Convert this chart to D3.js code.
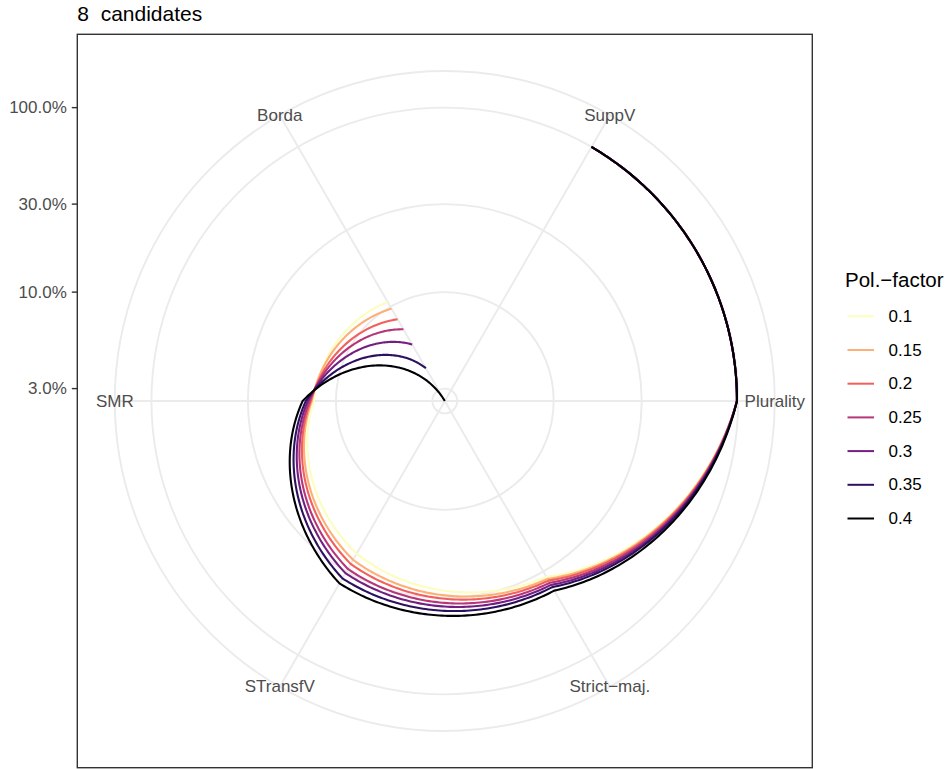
<!DOCTYPE html>
<html>
<head>
<meta charset="utf-8">
<script src="https://cdn.jsdelivr.net/npm/d3@7"></script>
<style>
  html, body { margin: 0; padding: 0; background: #fff; }
  svg { display: block; font-family: "Liberation Sans", Arial, Helvetica, sans-serif; }
</style>
</head>
<body>
<svg id="chart" width="948" height="769"></svg>
<script>
// Voting rules, in the clockwise order they are placed around the circle
const categories = ["SuppV", "Plurality", "Strict\u2212maj.", "STransfV", "SMR", "Borda"];

// Polarisation factor levels (legend entries)
const polFactors = ["0.1", "0.15", "0.2", "0.25", "0.3", "0.35", "0.4"];

// Share per rule, one array per polarisation factor (same order as categories)
const pol010 = [1.000, 0.985, 0.3245, 0.232, 0.1318, 0.1072];
const pol015 = [1.000, 0.985, 0.3336, 0.2535, 0.1350, 0.0972];
const pol020 = [1.000, 0.985, 0.342, 0.269, 0.1368, 0.0835];
const pol025 = [1.000, 0.985, 0.353, 0.289, 0.1388, 0.0722];
const pol030 = [1.000, 0.985, 0.364, 0.307, 0.1420, 0.0580];
const pol035 = [1.000, 0.985, 0.3757, 0.331, 0.1456, 0.0412];
const pol040 = [1.000, 0.985, 0.395, 0.356, 0.1515, 0.0257];
const seriesValues = [pol010, pol015, pol020, pol025, pol030, pol035, pol040];

// Radial axis breaks and their labels
const rTicks = [0.03, 0.1, 0.3, 1.0];
const rTickLabels = ["3.0%", "10.0%", "30.0%", "100.0%"];

// Reversed magma palette
const palette = ["#FCFDBF", "#FEAF77", "#F1605D", "#B63679", "#721F81", "#2D1160", "#000004"];

const titleText = "8  candidates";
const legendTitle = "Pol.\u2212factor";

// ---- layout ----
const svg = d3.select("#chart");
const panel = { x: 77.3, y: 34.3, w: 735, h: 733.4 };
const cx = panel.x + panel.w / 2;
const cy = panel.y + panel.h / 2;
const R = 0.4 * panel.h;       // radius reached by the largest value
const Router = 0.45 * panel.h; // outer ring and label radius

const allVals = seriesValues.flat();
const rScale = d3.scaleLog()
  .domain([d3.min(allVals), d3.max(allVals)])
  .range([0, R]);

const thetaScale = d3.scaleBand()
  .domain(categories)
  .range([0, 2 * Math.PI])
  .paddingInner(0).paddingOuter(0);
const theta = c => thetaScale(c) + thetaScale.bandwidth() / 2;

const color = d3.scaleOrdinal().domain(polFactors).range(palette);

// panel background
svg.append("rect")
  .attr("x", panel.x).attr("y", panel.y)
  .attr("width", panel.w).attr("height", panel.h)
  .attr("fill", "#fff");

const g = svg.append("g").attr("transform", `translate(${cx},${cy})`);

// grid: spokes
const gridColor = "#EBEBEB";
g.append("g").selectAll("line")
  .data(categories)
  .join("line")
  .attr("x1", 0).attr("y1", 0)
  .attr("x2", d => Router * Math.sin(theta(d)))
  .attr("y2", d => -Router * Math.cos(theta(d)))
  .attr("stroke", gridColor)
  .attr("stroke-width", 1.9);

// grid: circles at the radial breaks plus the outer ring
g.append("g").selectAll("circle")
  .data(rTicks.map(t => rScale(t)).concat([Router]))
  .join("circle")
  .attr("r", d => d)
  .attr("fill", "none")
  .attr("stroke", gridColor)
  .attr("stroke-width", 1.9);

// series as polar paths: interpolate angle and radius linearly between
// consecutive points so that each segment becomes a spiral arc
const steps = 80;
function polarPath(vals) {
  const pts = [];
  for (let i = 0; i < vals.length - 1; i++) {
    const a0 = theta(categories[i]), a1 = theta(categories[i + 1]);
    const r0 = rScale(vals[i]), r1 = rScale(vals[i + 1]);
    for (let k = 0; k < steps; k++) {
      const t = k / steps;
      pts.push([a0 + t * (a1 - a0), r0 + t * (r1 - r0)]);
    }
  }
  const last = vals.length - 1;
  pts.push([theta(categories[last]), rScale(vals[last])]);
  return pts;
}
const lineGen = d3.lineRadial().angle(d => d[0]).radius(d => d[1]);

g.append("g").selectAll("path")
  .data(polFactors.map((p, i) => ({ key: p, vals: seriesValues[i] })))
  .join("path")
  .attr("d", d => lineGen(polarPath(d.vals)))
  .attr("fill", "none")
  .attr("stroke", d => color(d.key))
  .attr("stroke-width", 2.1)
  .attr("stroke-linejoin", "round");

// category labels on the outer ring
g.append("g").selectAll("text")
  .data(categories)
  .join("text")
  .attr("x", d => Router * Math.sin(theta(d)))
  .attr("y", d => -Router * Math.cos(theta(d)))
  .attr("text-anchor", "middle")
  .attr("dominant-baseline", "central")
  .attr("fill", "#4D4D4D")
  .attr("font-size", 17)
  .text(d => d);

// panel border
svg.append("rect")
  .attr("x", panel.x).attr("y", panel.y)
  .attr("width", panel.w).attr("height", panel.h)
  .attr("fill", "none")
  .attr("stroke", "#333333")
  .attr("stroke-width", 1.4);

// radial axis on the left
const axisG = svg.append("g");
axisG.selectAll("line")
  .data(rTicks)
  .join("line")
  .attr("x1", panel.x - 5.5).attr("x2", panel.x)
  .attr("y1", d => cy - rScale(d)).attr("y2", d => cy - rScale(d))
  .attr("stroke", "#333333").attr("stroke-width", 1.4);
axisG.selectAll("text")
  .data(rTicks)
  .join("text")
  .attr("x", panel.x - 10.5)
  .attr("y", d => cy - rScale(d))
  .attr("text-anchor", "end")
  .attr("dominant-baseline", "central")
  .attr("fill", "#4D4D4D")
  .attr("font-size", 17)
  .text((d, i) => rTickLabels[i]);

// title
svg.append("text")
  .attr("x", panel.x).attr("y", 21)
  .attr("font-size", 21)
  .attr("fill", "#000")
  .style("white-space", "pre")
  .attr("xml:space", "preserve")
  .text(titleText);

// legend
const leg = svg.append("g").attr("transform", "translate(845,0)");
leg.append("text")
  .attr("x", 0).attr("y", 287)
  .attr("font-size", 20.5)
  .attr("fill", "#000")
  .text(legendTitle);
const items = leg.selectAll("g.item")
  .data(polFactors)
  .join("g")
  .attr("class", "item")
  .attr("transform", (d, i) => `translate(0,${316.3 + i * 33.7})`);
items.append("line")
  .attr("x1", 2.5).attr("x2", 29)
  .attr("y1", 0).attr("y2", 0)
  .attr("stroke", d => color(d))
  .attr("stroke-width", 2);
items.append("text")
  .attr("x", 43.5).attr("y", 0)
  .attr("dominant-baseline", "central")
  .attr("font-size", 17)
  .attr("fill", "#000")
  .text(d => d);
</script>
</body>
</html>
